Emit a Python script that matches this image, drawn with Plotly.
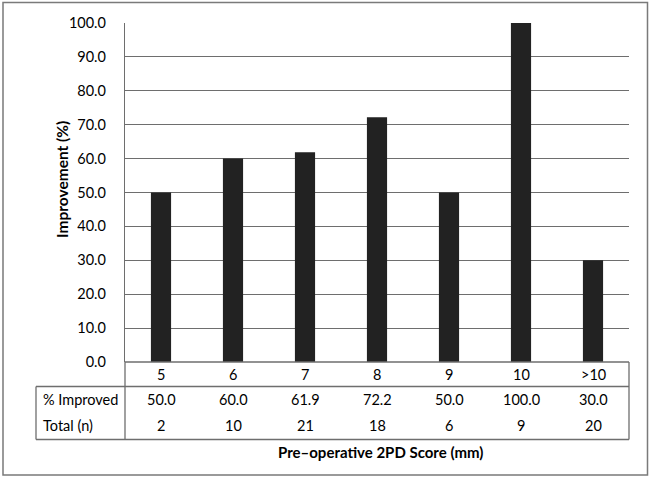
import plotly.graph_objects as go

categories = ["5", "6", "7", "8", "9", "10", ">10"]
pct_improved = [50.0, 60.0, 61.9, 72.2, 50.0, 100.0, 30.0]
total_n = [2, 10, 21, 18, 6, 9, 20]
y_ticks = [0, 10, 20, 30, 40, 50, 60, 70, 80, 90, 100]
row_labels = ["% Improved", "Total (n)"]

FONT = "Lato, Noto Sans, sans-serif"
TXT = "#000000"

W, H = 650, 478
L, R, T, B = 125, 21, 23, 116
PW, PH = W - L - R, H - T - B

def px_x(p):  # pixel x -> paper
    return (p - L) / PW

def px_y(p):  # pixel y -> paper
    return (H - B - p) / PH

fig = go.Figure()
fig.add_trace(go.Bar(
    x=categories, y=pct_improved, width=0.28,
    marker=dict(color="#222222", line=dict(width=0)),
    hoverinfo="x+y",
))

shapes = []
line = dict(color="#6e6e6e", width=1.3)
# outer chart border
shapes.append(dict(type="rect", xref="paper", yref="paper",
                   x0=px_x(3), x1=px_x(647.5), y0=px_y(2.5), y1=px_y(475),
                   line=dict(color="#7a7a7a", width=1.5), layer="below"))
# data table lines
row_y = [px_y(362), px_y(386.5), px_y(439.5)]
left_tab = px_x(36)
shapes += [
    dict(type="line", xref="paper", yref="paper", x0=0, x1=1, y0=row_y[0], y1=row_y[0], line=line),
    dict(type="line", xref="paper", yref="paper", x0=left_tab, x1=1, y0=row_y[1], y1=row_y[1], line=line),
    dict(type="line", xref="paper", yref="paper", x0=left_tab, x1=1, y0=row_y[2], y1=row_y[2], line=line),
    dict(type="line", xref="paper", yref="paper", x0=0, x1=0, y0=row_y[0], y1=row_y[2], line=line),
    dict(type="line", xref="paper", yref="paper", x0=1, x1=1, y0=row_y[0], y1=row_y[2], line=line),
    dict(type="line", xref="paper", yref="paper", x0=left_tab, x1=left_tab, y0=row_y[1], y1=row_y[2], line=line),
]

annotations = []
fnt = dict(family=FONT, size=14.5, color=TXT)
cat_y = px_y(374)
r1_y = px_y(399.5)
r2_y = px_y(425.5)
common = dict(showarrow=False, yanchor="middle", xanchor="center")
for i, (c, p, n) in enumerate(zip(categories, pct_improved, total_n)):
    annotations.append(dict(x=i, y=cat_y, xref="x", yref="paper", text=c, font=fnt, **common))
    annotations.append(dict(x=i, y=r1_y, xref="x", yref="paper", text=f"{p:.1f}", font=fnt, **common))
    annotations.append(dict(x=i, y=r2_y, xref="x", yref="paper", text=str(n), font=fnt, **common))
for lab, yy in zip(row_labels, [r1_y, r2_y]):
    annotations.append(dict(x=px_x(41), y=yy, xref="paper", yref="paper", text=lab,
                            showarrow=False, xanchor="left", yanchor="middle", font=fnt))
annotations.append(dict(x=px_x(380), y=px_y(452), xref="paper", yref="paper",
                        text="<b>Pre\u2013operative 2PD Score (mm)</b>",
                        font=dict(family=FONT, size=15, color=TXT), **common))
annotations.append(dict(x=px_x(62), y=px_y(180), xref="paper", yref="paper",
                        text="<b>Improvement (%)</b>", textangle=-90,
                        font=dict(family=FONT, size=15.5, color=TXT), **common))

fig.update_layout(
    width=W, height=H,
    margin=dict(l=L, r=R, t=T, b=B, pad=0),
    paper_bgcolor="white", plot_bgcolor="white",
    showlegend=False,
    bargap=0.72,
    shapes=shapes, annotations=annotations,
    xaxis=dict(type="category", range=[-0.5, 6.5], showticklabels=False, ticks="",
               showgrid=False, showline=False, zeroline=False, fixedrange=True),
    yaxis=dict(range=[0, 100], tickvals=y_ticks, tickformat=".1f", showgrid=True,
               gridcolor="#6e6e6e", gridwidth=1.3, zeroline=False,
               showline=True, linecolor="#6e6e6e", linewidth=1.3,
               ticks="", ticklabelstandoff=15,
               tickfont=dict(family=FONT, size=14.5, color=TXT), fixedrange=True),
)

fig.write_html("out.html", config={"displayModeBar": False},
               post_script="document.body.style.margin='0';document.body.style.overflow='hidden';")
